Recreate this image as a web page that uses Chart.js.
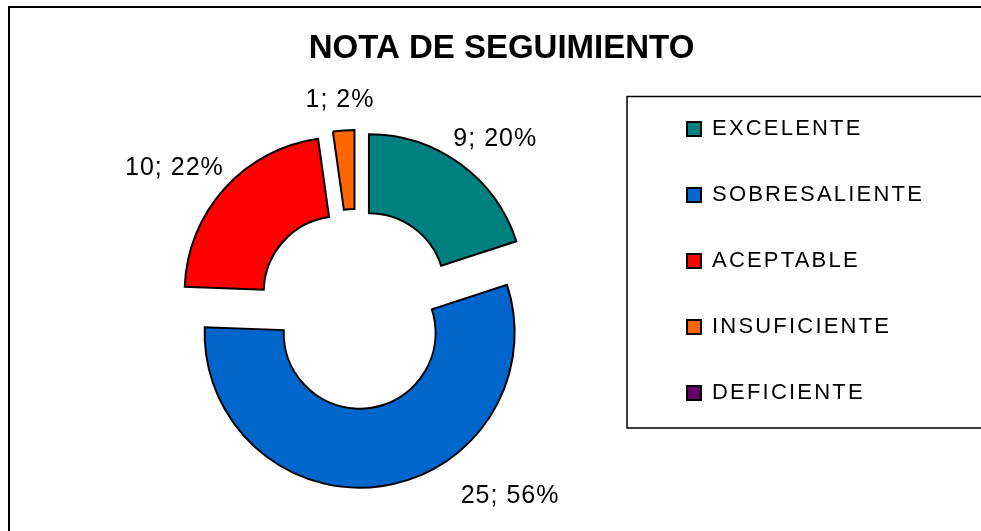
<!DOCTYPE html>
<html lang="es">
<head>
<meta charset="UTF-8">
<title>Nota de seguimiento</title>
<script src="https://cdn.jsdelivr.net/npm/chart.js"></script>
<style>
  html, body { margin: 0; padding: 0; background: #fff; }
  canvas { display: block; }
</style>
</head>
<body>
<canvas id="notaChart" width="981" height="531"></canvas>
<script>
var tituloGrafico = 'NOTA DE SEGUIMIENTO';
var categorias = ['EXCELENTE', 'SOBRESALIENTE', 'ACEPTABLE', 'INSUFICIENTE', 'DEFICIENTE'];
var cantidades = [9, 25, 10, 1, 0];
var colores = ['#008080', '#0066CC', '#FF0000', '#FF6600', '#660066'];

// separacion de cada porcion y colocacion de etiquetas
var separacion = [22, 26, 22, 22, 22];
var anguloEtiqueta = [null, 142, null, null, null];
var distEtiqueta = [18, 40, 18, 18, 18];
var fuente = "'Liberation Sans', Arial, sans-serif";

var total = cantidades.reduce(function(a, b) { return a + b; }, 0);

// desplaza cada porcion hacia afuera (como "explotar" en Excel)
var explotar = {
    id: 'explotar',
    afterDatasetsUpdate: function(chart) {
        var meta = chart.getDatasetMeta(0);
        meta.data.forEach(function(arc, i) {
            var d = separacion[i] || 0;
            var mid = (arc.startAngle + arc.endAngle) / 2;
            arc.x += Math.cos(mid) * d;
            arc.y += Math.sin(mid) * d;
        });
    }
};

// etiquetas "valor; porcentaje"
var etiquetas = {
    id: 'etiquetas',
    afterDatasetsDraw: function(chart) {
        var c = chart.ctx;
        var meta = chart.getDatasetMeta(0);
        c.save();
        c.font = '25px ' + fuente;
        c.letterSpacing = '1px';
        c.fillStyle = '#000';
        c.textAlign = 'center';
        c.textBaseline = 'middle';
        meta.data.forEach(function(arc, i) {
            if (!cantidades[i]) return;
            var a = anguloEtiqueta[i] != null ? (anguloEtiqueta[i] - 90) * Math.PI / 180 : (arc.startAngle + arc.endAngle) / 2;
            var dx = Math.cos(a), dy = Math.sin(a);
            var txt = cantidades[i] + '; ' + Math.round(cantidades[i] / total * 100) + '%';
            var w = c.measureText(txt).width, h = 25;
            var r = arc.outerRadius + distEtiqueta[i];
            c.fillText(txt, arc.x + dx * r + dx * w / 2, arc.y + dy * r + dy * h / 2);
        });
        c.restore();
    }
};

// marco exterior y recuadro de la leyenda
var marcos = {
    id: 'marcos',
    beforeDraw: function(chart) {
        var c = chart.ctx;
        c.save();
        c.fillStyle = '#fff';
        c.fillRect(0, 0, chart.width, chart.height);
        c.strokeStyle = '#000';
        c.lineWidth = 2;
        c.strokeRect(9, 7, chart.width, chart.height);
        var hb = chart.legend.legendHitBoxes;
        var top = hb[0].top - 21.5;
        var last = hb[hb.length - 1];
        var bottom = last.top + last.height + 24;
        c.lineWidth = 1.5;
        c.strokeRect(chart.legend.left - 16, top, chart.width, bottom - top);
        c.restore();
    }
};

// texto de la leyenda un poco espaciado
var espaciadoLeyenda = {
    id: 'espaciadoLeyenda',
    beforeUpdate: function(chart) {
        var leg = chart.legend;
        if (!leg || leg._espaciado) return;
        leg._espaciado = true;
        ['fit', 'draw'].forEach(function(name) {
            var orig = leg[name];
            leg[name] = function() {
                var c = this.ctx, prev = c.letterSpacing;
                c.letterSpacing = '2.2px';
                var r = orig.apply(this, arguments);
                c.letterSpacing = prev;
                return r;
            };
        });
    }
};

var ctx = document.getElementById('notaChart').getContext('2d');
var chart = new Chart(ctx, {
    type: 'doughnut',
    data: {
        labels: categorias,
        datasets: [{
            data: cantidades,
            backgroundColor: colores,
            borderColor: '#000',
            borderWidth: 2,
            borderJoinStyle: 'miter'
        }]
    },
    options: {
        responsive: false,
        animation: false,
        events: [],
        radius: 155,
        cutout: '49%',
        layout: { padding: { left: 69, right: 47, top: 0, bottom: 0 } },
        plugins: {
            title: {
                display: true,
                text: tituloGrafico,
                color: '#000',
                font: { family: fuente, size: 33, weight: 'bold', lineHeight: 1.2 },
                padding: { top: 29, bottom: 14.4 }
            },
            legend: {
                position: 'right',
                align: 'start',
                maxWidth: 296,
                title: {
                    display: true,
                    text: ' ',
                    font: { size: 12, lineHeight: 1.2 },
                    padding: { top: 30, bottom: 29.6 }
                },
                labels: {
                    color: '#000',
                    font: { family: fuente, size: 22 },
                    boxWidth: 14,
                    boxHeight: 14,
                    padding: 44
                }
            },
            tooltip: { enabled: false }
        }
    },
    plugins: [espaciadoLeyenda, explotar, etiquetas, marcos]
});
</script>
</body>
</html>
